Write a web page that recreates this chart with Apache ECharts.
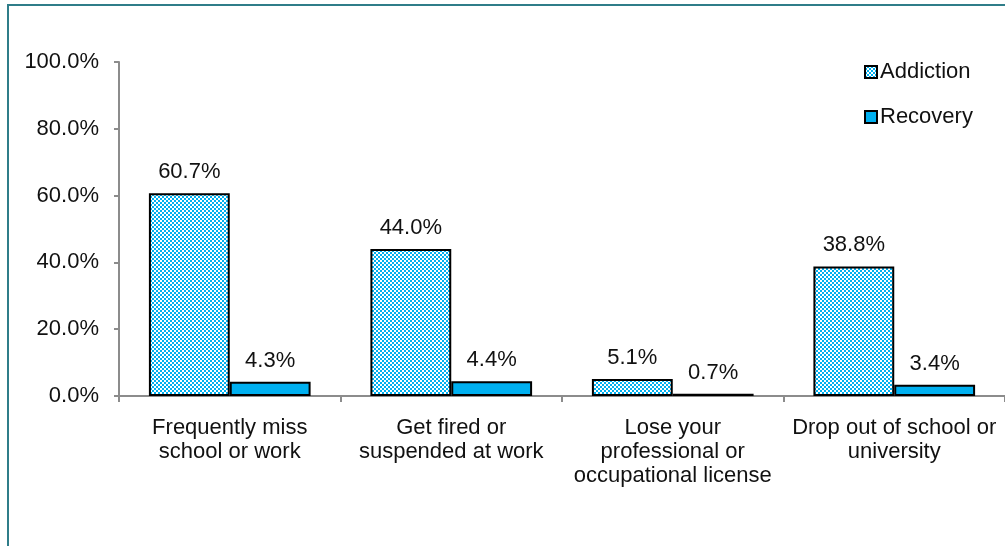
<!DOCTYPE html>
<html>
<head>
<meta charset="utf-8">
<script src="https://cdn.jsdelivr.net/npm/echarts@6/dist/echarts.min.js"></script>
<style>
  html, body { margin: 0; padding: 0; background: #fff; }
  #chart { width: 1005px; height: 546px; }
</style>
</head>
<body>
<div id="chart"></div>
<script>
// Consequences reported during addiction vs. during recovery
const categories = [
  'Frequently miss\nschool or work',
  'Get fired or\nsuspended at work',
  'Lose your\nprofessional or\noccupational license',
  'Drop out of school or\nuniversity'
];
const addiction = [60.7, 44.0, 5.1, 38.8];
const recovery = [4.3, 4.4, 0.7, 3.4];
const seriesNames = ['Addiction', 'Recovery'];

const FONT = '"Liberation Sans", Arial, sans-serif';
const BLUE = '#00b0f0';

// Small checkerboard tile used as the fill for the Addiction bars
function checkerTile() {
  const c = document.createElement('canvas');
  c.width = 4; c.height = 4;
  const g = c.getContext('2d');
  g.fillStyle = BLUE;
  g.fillRect(0, 0, 4, 4);
  g.fillStyle = '#ffffff';
  g.fillRect(0, 0, 2, 2);
  g.fillRect(2, 2, 2, 2);
  return c;
}
const checker = { image: checkerTile(), repeat: 'repeat' };

const pctLabel = {
  show: true,
  position: 'top',
  distance: 10,
  fontFamily: FONT,
  fontSize: 22,
  color: '#111',
  formatter: p => p.value.toFixed(1) + '%'
};

const chart = echarts.init(document.getElementById('chart'), null, { renderer: 'canvas' });
chart.setOption({
  animation: false,
  backgroundColor: '#ffffff',
  textStyle: { fontFamily: FONT },
  graphic: [{
    type: 'polyline',
    shape: { points: [[8, 546], [8, 5], [1005, 5]] },
    style: { stroke: '#2f7d89', lineWidth: 2, fill: null }
  }],
  legend: {
    orient: 'vertical',
    left: 859,
    top: 56,
    itemWidth: 12,
    itemHeight: 12,
    itemGap: 23,
    icon: 'rect',
    textStyle: { fontFamily: FONT, fontSize: 22, color: '#111', lineHeight: 22, padding: [0, 0, 0, -2] },
    data: seriesNames
  },
  grid: { left: 119, top: 62, width: 902, height: 334, containLabel: false },
  xAxis: {
    type: 'category',
    data: categories,
    axisLine: { lineStyle: { color: '#8c8c8c', width: 2 } },
    axisTick: { show: true, length: 6, lineStyle: { color: '#8c8c8c', width: 2 } },
    axisLabel: {
      interval: 0,
      margin: 20,
      fontFamily: FONT,
      fontSize: 22,
      lineHeight: 24,
      color: '#111',
      align: 'center'
    }
  },
  yAxis: {
    type: 'value',
    min: 0,
    max: 100,
    interval: 20,
    splitLine: { show: false },
    axisLine: { show: true, lineStyle: { color: '#8c8c8c', width: 2 } },
    axisTick: { show: true, length: 5, lineStyle: { color: '#8c8c8c', width: 2 } },
    axisLabel: {
      margin: 20,
      fontFamily: FONT,
      fontSize: 22,
      color: '#111',
      formatter: v => v.toFixed(1) + '%'
    }
  },
  series: [
    {
      name: seriesNames[0],
      type: 'bar',
      data: addiction,
      barGap: '0%',
      barCategoryGap: '27%',
      itemStyle: { color: checker, borderColor: '#000', borderWidth: 2 },
      label: pctLabel
    },
    {
      name: seriesNames[1],
      type: 'bar',
      data: recovery,
      barGap: '0%',
      barCategoryGap: '27%',
      itemStyle: { color: BLUE, borderColor: '#000', borderWidth: 2 },
      label: pctLabel
    }
  ]
});
</script>
</body>
</html>
